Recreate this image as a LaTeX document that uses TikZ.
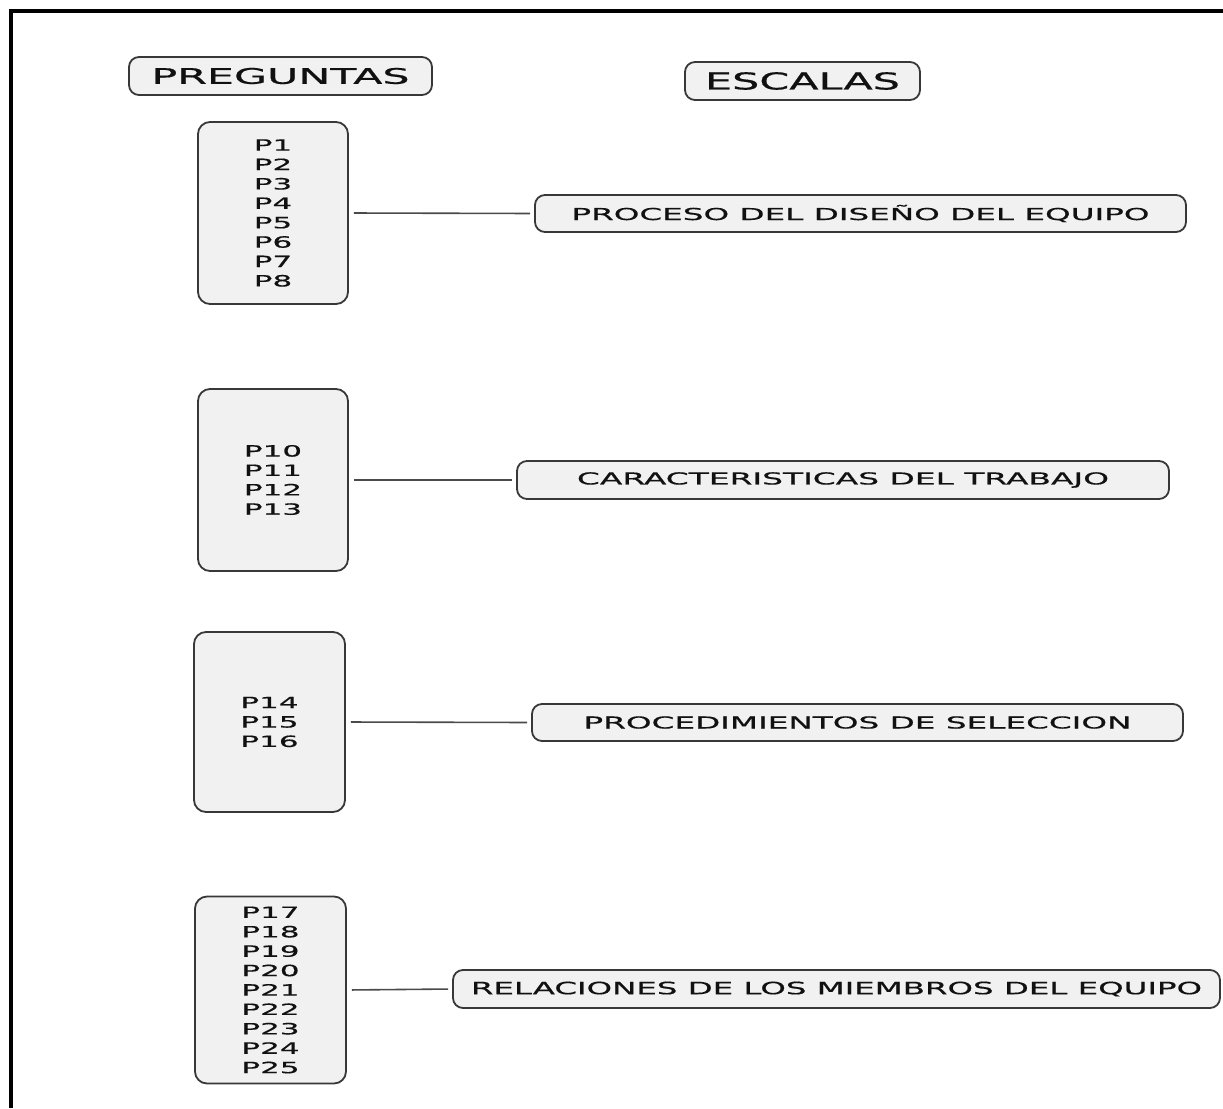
\documentclass[tikz,border=0pt]{standalone}
\usepackage{fontspec}
\usepackage{graphicx}
\setmainfont{DejaVu Sans}
% slightly heavier faces for the labels and the widened question lists
\newfontfamily\labfont[FakeBold=0.5]{DejaVu Sans}
\newfontfamily\qfont[FakeStretch=2.0,FakeBold=0.5]{DejaVu Sans}
% a one-line label set at a given size and stretched to a given width
\newcommand\widelabel[3]{\resizebox{#1pt}{\height}{\labfont\fontsize{#2pt}{#2pt}\selectfont #3}}

\definecolor{boxfill}{HTML}{F1F1F1}
\definecolor{boxline}{HTML}{383838}
\definecolor{linkcol}{HTML}{4A4A4A}
\definecolor{ink}{HTML}{111111}

\tikzset{
  frameline/.style={line width=4pt, black},
  tag/.style={draw=boxline, fill=boxfill, line width=1.8pt, rounded corners=10pt,
              inner sep=0pt, text=ink},
  qbox/.style={tag, rounded corners=12pt, align=center,
               font=\qfont\fontsize{15.5pt}{19.4pt}\selectfont},
  link/.style={draw=linkcol, line width=1.6pt, shorten <=5pt, shorten >=4pt},
}

\begin{document}
\begin{tikzpicture}[x=1pt,y=-1pt]
  \useasboundingbox (0,0) rectangle (1223,1108);
  \fill[white] (0,0) rectangle (1223,1108);

  % outer frame, open at the right and the bottom
  \draw[frameline] (11,1108) -- (11,11) -- (1223,11);

  % column headings
  \node[tag, minimum width=303pt, minimum height=38pt] (preg) at (280.5,76)
    {\widelabel{258}{21.4}{PREGUNTAS}};
  \node[tag, minimum width=235pt, minimum height=38pt] (esc) at (802.5,81)
    {\widelabel{195}{23.3}{ESCALAS}};

  % question groups
  \node[qbox, minimum width=150pt, minimum height=182pt] (q1) at (273,213)
    {P1\\P2\\P3\\P4\\P5\\P6\\P7\\P8};
  \node[qbox, minimum width=150pt, minimum height=182pt] (q2) at (273,480)
    {P10\\P11\\P12\\P13};
  \node[qbox, minimum width=151pt, minimum height=180pt] (q3) at (269.5,722)
    {P14\\P15\\P16};
  \node[qbox, minimum width=151pt, minimum height=187pt] (q4) at (270.5,990)
    {P17\\P18\\P19\\P20\\P21\\P22\\P23\\P24\\P25};

  % scales
  \node[tag, minimum width=651pt, minimum height=37pt] (s1) at (860.5,213.5)
    {\widelabel{578}{16.5}{PROCESO DEL DISEÑO DEL EQUIPO}};
  \node[tag, minimum width=652pt, minimum height=38pt] (s2) at (843,480)
    {\widelabel{532}{16.5}{CARACTERISTICAS DEL TRABAJO}};
  \node[tag, minimum width=651pt, minimum height=37pt] (s3) at (857.5,722.5)
    {\widelabel{548}{16.5}{PROCEDIMIENTOS DE SELECCION}};
  \node[tag, minimum width=767pt, minimum height=38pt] (s4) at (836.5,989)
    {\widelabel{731}{17}{RELACIONES DE LOS MIEMBROS DEL EQUIPO}};

  % links from each group to its scale
  \draw[link] (q1.east) -- (s1.west);
  \draw[link] (q2.east) -- (s2.west);
  \draw[link] (q3.east) -- (s3.west);
  \draw[link] (q4.east) -- (s4.west);
\end{tikzpicture}
\end{document}
